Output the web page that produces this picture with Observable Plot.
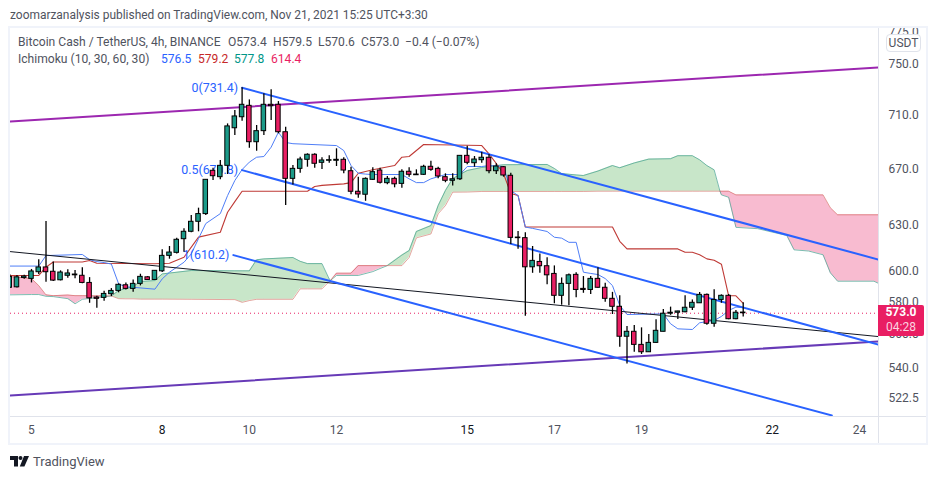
<!DOCTYPE html>
<html>
<head>
<meta charset="utf-8">
<script src="https://cdn.jsdelivr.net/npm/d3@7"></script>
<script src="https://cdn.jsdelivr.net/npm/@observablehq/plot@0.6"></script>
<style>
html,body{margin:0;padding:0;background:#fff;overflow:hidden}
#page{position:relative;width:938px;height:479px;font-family:Roboto,sans-serif;color:#50535e}
#head{height:26px;box-sizing:border-box;padding:8px 0 0 10px;font-size:11.95px;line-height:14px;color:#50535e;white-space:nowrap}
#page .abs{position:absolute;white-space:nowrap}
.leg{font-size:12.1px;line-height:14px}
#box{position:absolute;left:8px;top:26px;width:920px;height:419px;box-sizing:border-box;border:2px solid #f0f3fa;pointer-events:none}
#tag{position:absolute;left:878px;width:46px;height:31px;background:#e91e63;border-radius:0 2px 2px 0;color:#fff;text-align:center;font-size:12px;line-height:15px}
#tag b{display:block;font-weight:700}
#tag span{display:block;color:#fbd3e0}
#usdt{position:absolute;left:886px;top:34px;width:35px;height:18px;box-sizing:border-box;border:1px solid #e0e3eb;border-radius:4px;background:#fff;font-size:12px;line-height:16px;text-align:center;color:#50535e}
#foot{position:absolute;left:10px;top:454px;height:14px;display:flex;align-items:center;gap:4px;font-size:13px;color:#50535e}
</style>
</head>
<body>
<div id="page">
  <div id="head">zoomarzanalysis published on TradingView.com, Nov 21, 2021 15:25 UTC+3:30</div>
  <div id="chart"></div>
  <div id="box"></div>
  <div class="abs" style="left:878px;top:28px;width:1px;height:415px;background:#e0e3eb"></div>
  <div class="abs" style="left:10px;top:416px;width:916px;height:1px;background:#e0e3eb"></div>
  <div class="abs leg" style="left:18px;top:35px">Bitcoin Cash / TetherUS, 4h, BINANCE</div>
  <div class="abs leg" style="left:228px;top:35px">O573.4</div>
  <div class="abs leg" style="left:273px;top:35px">H579.5</div>
  <div class="abs leg" style="left:318px;top:35px">L570.6</div>
  <div class="abs leg" style="left:361px;top:35px">C573.0</div>
  <div class="abs leg" style="left:405px;top:35px">−0.4 (−0.07%)</div>
  <div class="abs leg" style="left:18px;top:52px">Ichimoku (10, 30, 60, 30)</div>
  <div class="abs leg" style="left:161px;top:52px;color:#2962ff">576.5</div>
  <div class="abs leg" style="left:198px;top:52px;color:#c62828">579.2</div>
  <div class="abs leg" style="left:234px;top:52px;color:#009688">577.8</div>
  <div class="abs leg" style="left:271px;top:52px;color:#e91e63">614.4</div>
  <div id="usdt">USDT</div>
  <div id="tag"><b>573.0</b><span>04:28</span></div>
  <div id="foot">
    <svg width="19" height="11" viewBox="0 0 19 11"><path d="M0 0h8v10.5h-4v-6.5h-4z" fill="#131722"/><circle cx="10.5" cy="2" r="2" fill="#131722"/><path d="M14 0h5l-4.6 10.5h-4.6z" fill="#131722"/></svg>
    <span>TradingView</span>
  </div>
</div>
<script>
const firstBar = -3;
const opens = [589,589.3,595.3,594.7,599,602.1,599.3,593.8,596.7,597,596.7,592.1,582.8,582.6,584.9,587,590.6,588.3,591.5,595.7,594,599.6,609.7,611.7,620.8,625.8,632.6,637.9,668.5,663.9,672.1,700,708.4,717.2,689.5,697.8,718,718,697,662.7,669.9,676.5,680.2,674.3,675.8,675.8,676.5,668.2,653.5,651.4,662,668.7,659.6,662.7,659.1,667.8,665.8,665.6,671.4,669.9,663.9,661.3,662.4,679.4,674,676.2,678,668.2,671.1,664.9,621.9,621.5,602.2,605.7,602.9,597.9,583.9,591.5,597.3,588.3,587.6,594.7,589,582,577,558.6,561.6,553.7,549.3,554.9,561.6,572.7,573.3,573.6,576.4,579.2,584.5,566.5,581.3,583.9,569.3,573.4];
const highs = [597.5,596.9,597,600.8,607.1,632.8,605.7,599.9,600.6,600.1,601.9,595.5,583.6,586.8,588.5,591.5,592.1,594,597.7,596.2,599.9,613.7,615.9,621.5,627.9,637,642,662,670.4,676,703.3,713.6,731.4,721.8,702.1,726.6,729.8,720.5,700.8,672.3,678.4,680.9,680.9,678,679.4,684.6,678,671.1,663.9,663.4,670.7,670.4,664.4,663.9,669.2,670.7,669.2,672.6,675.5,671.1,666.3,666.3,679.4,686.5,678.9,682.1,680.4,673.6,671.6,666.8,626,625.1,615.9,611,608.4,603.1,595.3,597.9,598.6,596.2,596.2,601.9,591.9,586.1,583.9,564.8,565.5,564,560,568.9,575.3,576.8,574.3,584,581.3,586,585.1,587.8,584.5,584.7,574.7,579.5];
const lows = [588.5,588.8,594.4,592.1,597.5,592.5,593,593.4,595.1,594.7,591.5,579.2,576.1,580.5,583.4,585.8,587.6,586.1,590.2,593.6,593.6,598.8,607.5,611,612.1,625.1,625.8,637,661.5,662,665.8,694.5,705.4,685,682.8,694.5,705.9,695.8,643.8,658.3,666.7,671.1,670.4,669.4,674,671.6,666.3,651.4,649,646.8,661.5,659.1,658.4,656.3,656,663.9,665.3,665.1,668.2,662.7,659.9,657.5,661.5,672.9,671.1,674,666.3,665.8,663.9,617.2,614.1,571.2,598.3,598.3,591,578.9,578,577.6,582.6,585.5,584.7,588.7,579.8,572.2,552.3,542.4,549.3,548,549.1,554.7,561.6,571.7,569.1,573.3,574.7,579.2,565.6,564.4,579.2,568.9,568.9,570.6];
const closes = [596,595.7,596.2,599.5,602.1,599,593.6,598.8,598.2,597.5,592.1,582.3,582,585.1,587,590.9,588.3,591.5,596,594,599.9,609.7,611.9,620.4,625.8,632.6,637.9,662,664.6,672.1,701.4,709,718,689.5,697.8,718,716.9,697,662.7,669.9,676.7,680.2,673.6,676,676.2,676.5,668.7,653.5,651.6,662.7,667.5,659.9,662.7,658.8,667.8,665.6,665.3,671.4,669.2,664.4,661.3,662.4,679.4,674.3,676.7,678,668.2,671.6,665.1,621.7,621.5,602.2,606.4,602.9,597,583.9,591.5,597,587.6,587.6,594.7,589,582,577,558.6,561.6,553.7,549.3,554.9,562.2,572.7,573.3,574.1,576.4,579.5,584.5,566.5,581.3,583.9,569.3,573.3,573];

const tenkanBars = [-3,1,2,7,8,9,10,11,12,13,14,17,18,19,21,22,23,24,26,27,28,29,30,31,32,33,34,35,36,42,43,44,45,46,47,51,52,53,54,55,57,59,60,62,63,65,66,67,68,69,71,72,73,74,75,76,77,78,79,80,81,82,87,88,89,91,92,94,95,96,97,98];
const tenkan = [603,603,609.9,610.6,607.2,605.9,605.3,604.3,591.5,589.6,589.3,588.1,594.7,599,605.5,611,621.2,631.4,638.2,650.8,661.5,669.4,674.8,678.4,678.9,685.8,697,689.3,688.4,687,683.3,672.3,666.7,666.1,665.8,665.8,662.7,660,660,662.7,665.8,665.8,671.6,671.6,672.3,671.6,654.4,650.8,629,628.1,626,622.1,621.5,618.7,618.7,599,598.2,597.5,594.9,590.4,577.8,572.2,572.6,566.5,563.4,563,567.1,568.5,571,574.7,576.8,576.5];

const kijunBars = [-3,1,2,3,7,8,9,17,19,21,23,26,27,28,29,38,39,40,43,44,45,47,50,51,52,54,62,63,64,65,66,67,68,80,81,82,89,90,91,92,93,94,95,96,97,98];
const kijun = [596.9,596.9,602.3,605.7,605.7,606.6,604.8,604.5,604.8,608.8,622.2,625.5,639.2,646.6,653.9,653.9,657.2,658,659.1,660,666.7,669.2,672.3,678.4,678.9,687.8,687,680.9,673.8,666.4,652.3,650.8,629,629,619.4,614.3,614.3,612.1,612.1,610.4,607.7,606.8,604.2,583.9,583.9,579.2];

const cloudBars = [-3,0,1,2,3,5,6,7,11,12,13,14,15,17,18,22,28,29,30,31,32,36,37,38,40,41,41.2,42,44,45,47,48,49,51,52,53,55,56,57,58,60,62,65,71,72,73,75,76,78,80,81,83,85,88,89,91,92,93,94,94.8,95,96,97,100,104,105,107,109,110,111,116,117];
const leadA = [584.5,584.7,584.7,583.6,583.4,582.1,578.9,581.7,583.8,587.2,588.5,589.8,593,593.6,597.9,600.1,599.9,599.9,599.9,607.1,607.7,608.6,606.1,604.6,604.6,594.6,593.8,596.9,596.9,596.9,599.4,601.4,603.3,610.2,613.2,626,630,643.8,654.4,662.9,668.7,670.9,672.9,673.1,670.2,666.5,665.5,665.1,668.3,672.3,670.7,674.2,677,677.3,679.5,679.5,676.5,672.3,669.2,653.9,651.3,649.6,628.8,627.9,623.3,613.7,612.9,610.4,598.6,593.2,593.2,591];
const leadB = [596.2,594.9,590.4,584.5,584,584.4,584,584,583.8,582.1,582,582,581.8,581.8,581.8,581.7,581.5,579.8,580.9,581.7,581.7,581.7,588.3,588.3,588.3,593,593.8,598.4,598.4,603.3,603.3,603.3,603.3,603.3,608.6,621.7,624.3,638.1,643.8,653.2,653.3,653.7,653.7,653.7,653.7,653.7,653.7,653.7,653.9,653.9,653.9,653.9,653.9,653.9,653.9,653.9,653.9,653.9,653.9,653.9,653.9,653.9,651.3,651.3,651.3,651.3,651.3,651.3,642.3,637.4,637.4,637.4];
const cloudSegments = [[-3,11,"pink"],[11,41.2,"green"],[41.2,49,"pink"],[49,94.8,"green"],[94.8,117,"pink"]];

const trendLines = [
  {name:"upper",  bars:[-2.9,116.6], prices:[705.1,747.6], color:"#9c27b0", w:2},
  {name:"lower",  bars:[-2.9,116.6], prices:[524.2,555.8], color:"#673ab7", w:2},
  {name:"black",  bars:[-2.9,116.6], prices:[612.5,558.7], color:"#131722", w:1},
  {name:"fib0",   bars:[29,116.6],   prices:[731.4,607.3], color:"#2962ff", w:2},
  {name:"fib05",  bars:[29,116.6],   prices:[669,553.9],   color:"#2962ff", w:2},
  {name:"fib1",   bars:[27.8,110.2], prices:[610.2,513],   color:"#2962ff", w:2}
];
const fibLabels = ["0(731.4)","0.5(670.8)","1(610.2)"];
const fibLabelBars = [29,29,27.8];
const fibLabelPrices = [731.4,669,610.2];

const priceTicks = [750,710,670,630,600,580,560,540,522.5];
const topTick = [775];
const dayLabels = ["5","8","10","12","15","17","19","22","24"];
const dayBars = [0,18,30,42,60,72,84,102,114];
const lastPrice = 573;

const bars = opens.map((o,k)=>({bar:firstBar+k,open:o,high:highs[k],low:lows[k],close:closes[k]}));
const cloud = cloudBars.map((b,k)=>({bar:b,a:leadA[k],b:leadB[k]}));
const lineOf = (xs,ys)=>xs.map((x,k)=>({x,y:ys[k]}));
const fills = {green:"#c8e6c9",pink:"#f8bbd0"};
const weekDays = new Set(["8","15","22"]);
const halfBody = 0.31;

const plot = Plot.plot({
  width:938,height:419,
  marginLeft:10,marginRight:60,marginTop:2,marginBottom:29,
  style:{fontFamily:"Roboto, sans-serif",fontSize:"12px",background:"transparent",color:"#50535e",overflow:"visible"},
  x:{type:"linear",domain:[-2.89,116.63]},
  y:{type:"log",domain:[512.4,779.8]},
  marks:[
    ...cloudSegments.map(([from,to,col])=>Plot.areaY(cloud.filter(d=>d.bar>=from&&d.bar<=to),
      {x:"bar",y1:"a",y2:"b",fill:fills[col],clip:true})),
    Plot.line(cloud,{x:"bar",y:"a",stroke:"#43a08f",strokeOpacity:0.7,strokeWidth:1,clip:true}),
    Plot.line(cloud,{x:"bar",y:"b",stroke:"#c0392b",strokeOpacity:0.45,strokeWidth:1,clip:true}),
    Plot.ruleY([lastPrice],{stroke:"#e91e63",strokeWidth:1,strokeDasharray:"1,3"}),
    Plot.line(lineOf(kijunBars,kijun),{x:"x",y:"y",stroke:"#bf3a36",strokeWidth:1.1,clip:true}),
    Plot.line(lineOf(tenkanBars,tenkan),{x:"x",y:"y",stroke:"#4f7ef7",strokeWidth:1,clip:true}),
    ...trendLines.map(t=>Plot.line(lineOf(t.bars,t.prices),{x:"x",y:"y",stroke:t.color,strokeWidth:t.w,clip:true})),
    Plot.text(fibLabels,{x:(d,k)=>fibLabelBars[k],y:(d,k)=>fibLabelPrices[k],text:d=>d,textAnchor:"end",dx:-4,fill:"#2962ff",fontSize:12.4}),
    Plot.ruleX(bars,{x:"bar",y1:"low",y2:"high",stroke:"#000",strokeWidth:1.3,clip:true}),
    Plot.rect(bars,{x1:d=>d.bar-halfBody,x2:d=>d.bar+halfBody,y1:"open",y2:"close",
      fill:d=>d.close>=d.open?"#1b9a88":"#e91e63",stroke:"#000",strokeWidth:1,clip:true}),
    Plot.axisY({anchor:"right",ticks:priceTicks,tickSize:0,tickPadding:10,tickFormat:d=>d.toFixed(1),fontSize:12,label:null,fill:"#50535e"}),
    Plot.text(topTick,{y:d=>d,text:d=>d.toFixed(1),frameAnchor:"right",textAnchor:"start",dx:10,dy:-2,fill:"#50535e",fontSize:12}),
    Plot.axisX({anchor:"bottom",ticks:dayBars.filter((b,k)=>!weekDays.has(dayLabels[k])),tickSize:0,tickPadding:9,
      tickFormat:b=>dayLabels[dayBars.indexOf(b)],fontSize:12,label:null,fill:"#50535e"}),
    Plot.axisX({anchor:"bottom",ticks:dayBars.filter((b,k)=>weekDays.has(dayLabels[k])),tickSize:0,tickPadding:9,
      tickFormat:b=>dayLabels[dayBars.indexOf(b)],fontSize:12,label:null,fill:"#131722"})
  ]
});
document.getElementById("chart").appendChild(plot);
document.getElementById("tag").style.top = (26 + plot.scale("y").apply(lastPrice) - 8) + "px";
</script>
</body>
</html>
